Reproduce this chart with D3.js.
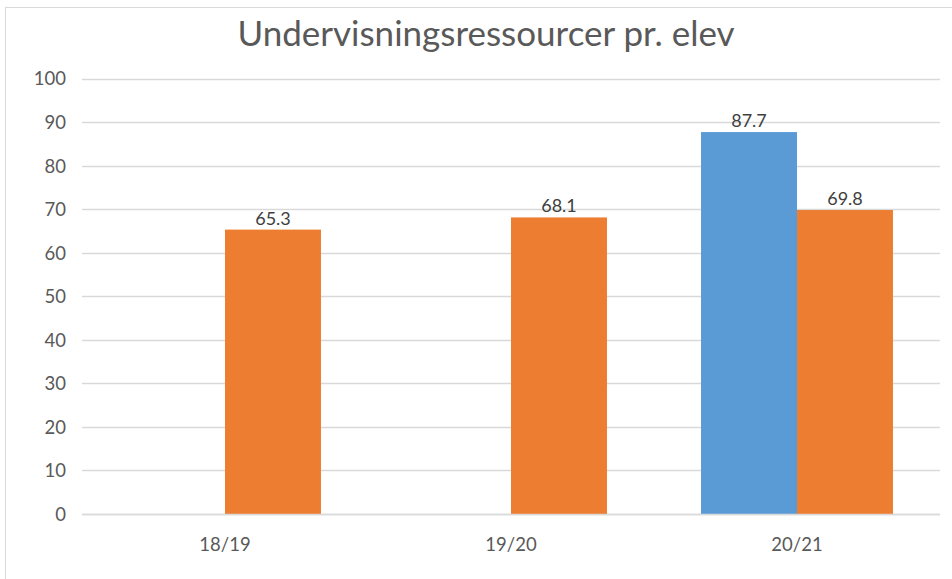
<!DOCTYPE html>
<html><head><meta charset="utf-8">
<script src="https://cdn.jsdelivr.net/npm/d3@7"></script>
<style>body{margin:0;background:#fff}svg{display:block}</style>
</head><body>
<script>
const categories = ["18/19", "19/20", "20/21"];
const seriesNames = ["Serie 1", "Serie 2"];
const series1 = [null, null, 87.7];
const series2 = [65.3, 68.1, 69.8];
const yTicks = [0, 10, 20, 30, 40, 50, 60, 70, 80, 90, 100];
const title = "Undervisningsressourcer pr. elev";
const colors = ["#5B9BD5", "#ED7D31"];

const W = 952, H = 579;
const font = "Lato, 'Open Sans', sans-serif";
const svg = d3.select("body").append("svg").attr("width", W).attr("height", H);

// chart border
svg.append("rect").attr("x", 5.5).attr("y", 7.5).attr("width", 960).attr("height", 580)
  .attr("fill", "#fff").attr("stroke", "#d9d9d9").attr("stroke-width", 1);

const x0 = 82, x1 = 940, yTop = 78.5, yBot = 514;
const x = d3.scaleBand().domain(categories).range([x0, x1]).paddingInner(0).paddingOuter(0);
const y = d3.scaleLinear().domain([0, 100]).range([yBot, yTop]);
const inner = d3.scaleBand().domain(seriesNames).range([0, x.bandwidth()]).paddingOuter(0.49).paddingInner(0);

// gridlines
svg.append("g").selectAll("line").data(yTicks).join("line")
  .attr("x1", x0).attr("x2", x1)
  .attr("y1", d => Math.round(y(d)) + 0.5).attr("y2", d => Math.round(y(d)) + 0.5)
  .attr("stroke", "#d9d9d9").attr("stroke-width", 1.3);

// y axis labels
const yAxis = d3.axisLeft(y).tickValues(yTicks).tickSize(0).tickPadding(0);
const yg = svg.append("g").attr("transform", `translate(66,0)`).call(yAxis);
yg.select(".domain").remove();
yg.selectAll("text").attr("font-family", font).attr("font-size", 18.5).attr("fill", "#595959").attr("dy", "0.35em");

// x axis labels
const xAxis = d3.axisBottom(x).tickSize(0).tickPadding(0);
const xg = svg.append("g").attr("transform", `translate(0,534)`).call(xAxis);
xg.select(".domain").remove();
xg.selectAll("text").attr("font-family", font).attr("font-size", 18.5).attr("fill", "#595959").attr("dy", "0.9em");

const data = [series1, series2];
data.forEach((vals, si) => {
  const pts = categories.map((c, i) => ({c, v: vals[i]})).filter(d => d.v != null);
  svg.append("g").selectAll("rect").data(pts).join("rect")
    .attr("x", d => x(d.c) + inner(seriesNames[si]))
    .attr("width", inner.bandwidth())
    .attr("y", d => y(d.v))
    .attr("height", d => y(0) - y(d.v))
    .attr("fill", colors[si]);
  svg.append("g").selectAll("text").data(pts).join("text")
    .attr("x", d => x(d.c) + inner(seriesNames[si]) + inner.bandwidth() / 2)
    .attr("y", d => y(d.v) - 5)
    .attr("text-anchor", "middle")
    .attr("font-family", font).attr("font-size", 18).attr("fill", "#404040")
    .text(d => d.v.toFixed(1));
});

// baseline
svg.append("line").attr("x1", x0).attr("x2", x1).attr("y1", yBot + 0.5).attr("y2", yBot + 0.5)
  .attr("stroke", "#d9d9d9").attr("stroke-width", 1.3);

svg.append("text").attr("x", 486).attr("y", 46).attr("text-anchor", "middle")
  .attr("font-family", font).attr("font-size", 35).attr("fill", "#595959").text(title);
</script>
</body></html>
